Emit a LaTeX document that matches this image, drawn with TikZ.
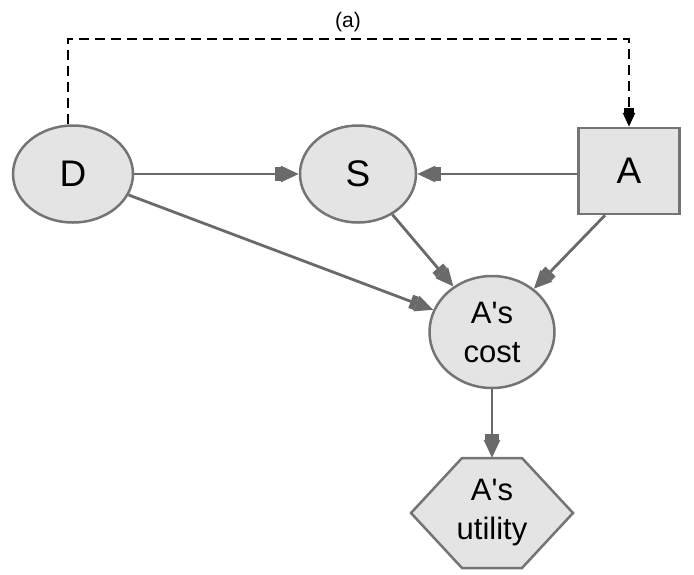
\documentclass[tikz,border=0pt]{standalone}
\usepackage{fontspec}
\setmainfont{Liberation Sans}
\usetikzlibrary{arrows.meta,calc,shapes.geometric}

\definecolor{nodefill}{HTML}{E4E4E4}
\definecolor{nodeline}{HTML}{747474}
\definecolor{edgeline}{HTML}{6A6A6A}

\begin{document}
\begin{tikzpicture}[x=1pt,y=-1pt,
  chance/.style={ellipse, draw=nodeline, fill=nodefill, line width=2.5pt, inner sep=0pt},
  decision/.style={rectangle, draw=nodeline, fill=nodefill, line width=2.5pt, inner sep=0pt,
    minimum width=101pt, minimum height=86pt},
  utilitybox/.style={draw=nodeline, fill=nodefill, line width=2.5pt, line join=miter},
  bigtext/.style={font=\fontsize{37}{42}\selectfont},
  twoline/.style={font=\fontsize{31}{39}\selectfont, align=center},
  link/.style={draw=edgeline, line width=2.8pt,
    -{Rectangle[length=6pt,width=14pt,sep=0pt]Triangle[length=18pt,width=16pt]}},
  infolink/.style={draw=black, line width=2.5pt, dash pattern=on 10pt off 6pt,
    -{Rectangle[length=5pt,width=10pt,sep=0pt]Triangle[length=14pt,width=12pt]}}
]
\useasboundingbox (0,0) rectangle (694,574);

% title
\node[font=\fontsize{21}{25}\selectfont] (title) at (348,22) {(a)};

% chance and decision nodes
\node[chance, bigtext, minimum width=120pt, minimum height=97pt] (D) at (73,174) {D};
\node[chance, bigtext, minimum width=116pt, minimum height=97pt] (S) at (358,174) {S};
\node[decision, bigtext] (A) at (629,171) {A};
\node[chance, twoline, minimum width=125pt, minimum height=112pt] (cost) at (492,332)
  {A\textquotesingle s\\cost};

% utility node: hexagon drawn round a text node
\coordinate (uc) at (492,513);
\draw[utilitybox] ($(uc)+(-30,-55)$) -- ($(uc)+(30,-55)$) -- ($(uc)+(81,0)$)
  -- ($(uc)+(30,55)$) -- ($(uc)+(-30,55)$) -- ($(uc)+(-81,0)$) -- cycle;
\node[twoline, minimum width=60pt, minimum height=110pt, inner sep=0pt] (util) at (uc)
  {A\textquotesingle s\\utility};

% information link
\coordinate (c1) at (68,39);
\coordinate (c2) at (629,39);
\draw[infolink] (c1 |- D.north) -- (c1) -- (c2) -- (A.north);

% influence links
\draw[link] (D) -- (S);
\draw[link] (S -| A.west) -- (S.east);
\draw[link] (D) -- (cost);
\draw[link] (S) -- (cost);
\draw[link] ($(A.south)+(-24,0)$) -- (cost);
\draw[link] (cost) -- (util.north);
\end{tikzpicture}
\end{document}
